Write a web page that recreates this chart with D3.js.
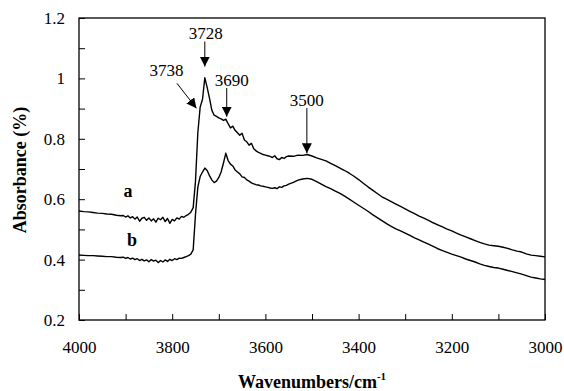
<!DOCTYPE html>
<html>
  <head>
    <meta charset="UTF-8">
    <title>FTIR spectra</title>
    <script src="https://d3js.org/d3.v7.min.js"></script>
    <style>
      body { margin: 0; background: #fff; }
      svg { display: block; }
      svg text { font-family: "Liberation Serif", "Times New Roman", "DejaVu Serif", serif !important; fill: #000; }
    </style>
  </head>
  <body>
    <div id="chart"></div>
    <script>
      // wavenumber grid (cm-1) shared by both spectra
      const wavenumbers = [
        4000, 3990, 3980, 3970, 3960, 3950, 3940, 3930, 3920, 3910,
        3905, 3900, 3895, 3890, 3885, 3880, 3875, 3870, 3865, 3860,
        3855, 3850, 3845, 3840, 3835, 3830, 3825, 3820, 3815, 3810,
        3805, 3800, 3795, 3790, 3785, 3780, 3775, 3770, 3765, 3760,
        3755, 3750, 3745, 3740, 3735, 3730, 3725, 3720, 3715, 3710,
        3705, 3700, 3695, 3690, 3685, 3680, 3675, 3670, 3665, 3660,
        3655, 3650, 3645, 3640, 3635, 3630, 3625, 3620, 3615, 3610,
        3605, 3600, 3595, 3590, 3585, 3580, 3575, 3570, 3565, 3560,
        3555, 3550, 3540, 3530, 3520, 3510, 3500, 3490, 3480, 3470,
        3460, 3450, 3440, 3430, 3420, 3410, 3400, 3390, 3380, 3370,
        3360, 3350, 3340, 3330, 3320, 3310, 3300, 3290, 3280, 3270,
        3260, 3250, 3240, 3230, 3220, 3210, 3200, 3190, 3180, 3170,
        3160, 3150, 3140, 3130, 3120, 3110, 3100, 3090, 3080, 3070,
        3060, 3050, 3040, 3030, 3020, 3010, 3000
      ];

      // spectrum a
      const absA = [
        0.561, 0.559, 0.558, 0.556, 0.554, 0.553, 0.551, 0.550, 0.547, 0.545,
        0.546, 0.541, 0.545, 0.538, 0.542, 0.534, 0.541, 0.527, 0.537, 0.540,
        0.530, 0.538, 0.528, 0.535, 0.524, 0.537, 0.532, 0.540, 0.526, 0.536,
        0.520, 0.533, 0.528, 0.538, 0.534, 0.543, 0.540, 0.546, 0.550, 0.557,
        0.572, 0.660, 0.820, 0.905, 0.930, 1.002, 0.970, 0.935, 0.895, 0.878,
        0.874, 0.869, 0.866, 0.861, 0.865, 0.850, 0.836, 0.842, 0.828, 0.820,
        0.812, 0.818, 0.796, 0.790, 0.779, 0.785, 0.767, 0.760, 0.755, 0.752,
        0.748, 0.746, 0.744, 0.742, 0.738, 0.744, 0.734, 0.731, 0.738, 0.735,
        0.741, 0.743, 0.742, 0.746, 0.745, 0.748, 0.743, 0.737, 0.732, 0.727,
        0.719, 0.711, 0.703, 0.695, 0.686, 0.676, 0.665, 0.653, 0.641, 0.630,
        0.619, 0.608, 0.600, 0.592, 0.584, 0.576, 0.568, 0.560, 0.552, 0.544,
        0.537, 0.530, 0.522, 0.515, 0.508, 0.501, 0.495, 0.488, 0.481, 0.475,
        0.469, 0.463, 0.457, 0.452, 0.448, 0.446, 0.444, 0.441, 0.437, 0.432,
        0.428, 0.425, 0.419, 0.415, 0.413, 0.411, 0.409
      ];

      // spectrum b
      const absB = [
        0.415, 0.414, 0.413, 0.413, 0.412, 0.411, 0.410, 0.410, 0.408, 0.407,
        0.408, 0.404, 0.407, 0.402, 0.405, 0.400, 0.403, 0.397, 0.401, 0.396,
        0.399, 0.393, 0.400, 0.395, 0.398, 0.390, 0.397, 0.392, 0.399, 0.394,
        0.401, 0.397, 0.403, 0.400, 0.405, 0.404, 0.407, 0.410, 0.413, 0.418,
        0.432, 0.550, 0.640, 0.675, 0.690, 0.703, 0.695, 0.678, 0.664, 0.655,
        0.660, 0.672, 0.690, 0.720, 0.752, 0.728, 0.716, 0.710, 0.697, 0.690,
        0.684, 0.674, 0.672, 0.664, 0.660, 0.654, 0.651, 0.648, 0.647, 0.644,
        0.643, 0.641, 0.639, 0.637, 0.636, 0.638, 0.635, 0.641, 0.639, 0.644,
        0.646, 0.650, 0.656, 0.663, 0.667, 0.669, 0.666, 0.658, 0.650, 0.642,
        0.635, 0.627, 0.619, 0.610, 0.600, 0.590, 0.580, 0.570, 0.560, 0.549,
        0.539, 0.529, 0.519, 0.510, 0.502, 0.495, 0.488, 0.480, 0.472, 0.465,
        0.458, 0.451, 0.444, 0.436, 0.430, 0.424, 0.418, 0.413, 0.408, 0.402,
        0.397, 0.392, 0.386, 0.381, 0.377, 0.374, 0.372, 0.368, 0.364, 0.360,
        0.356, 0.352, 0.347, 0.342, 0.339, 0.336, 0.334
      ];

      const xTicks = [4000, 3900, 3800, 3700, 3600, 3500, 3400, 3300, 3200, 3100, 3000];
      const xTickLabels = [4000, 3800, 3600, 3400, 3200, 3000];
      const yTicks = [0.2, 0.3, 0.4, 0.5, 0.6, 0.7, 0.8, 0.9, 1.0, 1.1, 1.2];
      const yTickLabels = [0.2, 0.4, 0.6, 0.8, 1.0, 1.2];

      // peak labels: text, arrow start, arrow tip, text centre (data units)
      const peakLabels = ["3738", "3728", "3690", "3500"];
      const arrowFrom = [[3790, 0.984], [3730, 1.122], [3683, 0.968], [3511, 0.902]];
      const arrowTo = [[3748, 0.901], [3730, 1.039], [3683, 0.873], [3511, 0.752]];
      const labelAt = [[3812, 1.028], [3728, 1.15], [3672, 0.995], [3511, 0.928]];

      const seriesNames = ["a", "b"];
      const seriesLabelAt = [[3895, 0.628], [3886, 0.465]];

      const width = 564;
      const height = 391;
      const margin = { top: 18, right: 19, bottom: 71, left: 79 };
      const serif = "'Liberation Serif', 'Times New Roman', serif";

      const svg = d3.select("#chart")
        .append("svg")
        .attr("width", width)
        .attr("height", height)
        .attr("font-family", serif);

      const x = d3.scaleLinear()
        .domain([4000, 3000])
        .range([margin.left, width - margin.right]);

      const y = d3.scaleLinear()
        .domain([0.2, 1.2])
        .range([height - margin.bottom, margin.top]);

      // axes with inward ticks
      const xAxis = d3.axisBottom(x)
        .tickValues(xTicks)
        .tickSizeInner(-6)
        .tickSizeOuter(0)
        .tickPadding(21)
        .tickFormat(d => xTickLabels.includes(d) ? d : "");

      const yAxis = d3.axisLeft(y)
        .tickValues(yTicks)
        .tickSizeInner(-6)
        .tickSizeOuter(0)
        .tickPadding(14)
        .tickFormat(d => yTickLabels.includes(d) ? String(+d.toFixed(1)) : "");

      const gx = svg.append("g")
        .attr("transform", `translate(0,${height - margin.bottom})`)
        .call(xAxis);
      const gy = svg.append("g")
        .attr("transform", `translate(${margin.left},0)`)
        .call(yAxis);

      [gx, gy].forEach(g => {
        g.attr("font-family", serif).attr("font-size", 17);
        g.select(".domain").remove();
        g.selectAll("line").attr("stroke", "#000").attr("stroke-width", 1);
        g.selectAll("text").attr("fill", "#000");
      });

      // plot frame
      svg.append("rect")
        .attr("x", x(4000))
        .attr("y", y(1.2))
        .attr("width", x(3000) - x(4000))
        .attr("height", y(0.2) - y(1.2))
        .attr("fill", "none")
        .attr("stroke", "#000")
        .attr("stroke-width", 1.3);

      // spectra
      const line = d3.line()
        .x(d => x(d[0]))
        .y(d => y(d[1]));

      [absA, absB].forEach(vals => {
        svg.append("path")
          .datum(wavenumbers.map((w, i) => [w, vals[i]]))
          .attr("fill", "none")
          .attr("stroke", "#000")
          .attr("stroke-width", 1.4)
          .attr("stroke-linejoin", "round")
          .attr("d", line);
      });

      // series letters
      seriesNames.forEach((name, i) => {
        svg.append("text")
          .attr("x", x(seriesLabelAt[i][0]))
          .attr("y", y(seriesLabelAt[i][1]))
          .attr("dy", "0.35em")
          .attr("text-anchor", "middle")
          .attr("font-size", 18)
          .attr("font-weight", "bold")
          .text(name);
      });

      // arrows with filled heads
      svg.append("defs").append("marker")
        .attr("id", "head")
        .attr("viewBox", "0 0 10 10")
        .attr("refX", 10)
        .attr("refY", 5)
        .attr("markerWidth", 10)
        .attr("markerHeight", 10)
        .attr("markerUnits", "userSpaceOnUse")
        .attr("orient", "auto")
        .append("path")
        .attr("d", "M0,0L10,5L0,10Z")
        .attr("fill", "#000");

      peakLabels.forEach((label, i) => {
        svg.append("line")
          .attr("x1", x(arrowFrom[i][0]))
          .attr("y1", y(arrowFrom[i][1]))
          .attr("x2", x(arrowTo[i][0]))
          .attr("y2", y(arrowTo[i][1]))
          .attr("stroke", "#000")
          .attr("stroke-width", 1)
          .attr("marker-end", "url(#head)");

        svg.append("text")
          .attr("x", x(labelAt[i][0]))
          .attr("y", y(labelAt[i][1]))
          .attr("dy", "0.35em")
          .attr("text-anchor", "middle")
          .attr("font-size", 17)
          .text(label);
      });

      // axis titles
      const xt = svg.append("text")
        .attr("x", (x(4000) + x(3000)) / 2)
        .attr("y", 388)
        .attr("text-anchor", "middle")
        .attr("font-size", 18)
        .attr("font-weight", "bold");
      xt.append("tspan").text("Wavenumbers/cm");
      xt.append("tspan")
        .attr("font-size", 11)
        .attr("dy", -8)
        .text("-1");

      svg.append("text")
        .attr("transform", `translate(20,${(y(0.2) + y(1.2)) / 2 + 1}) rotate(-90)`)
        .attr("dy", "0.35em")
        .attr("text-anchor", "middle")
        .attr("font-size", 18)
        .attr("font-weight", "bold")
        .text("Absorbance (%)");
    </script>
  </body>
</html>
